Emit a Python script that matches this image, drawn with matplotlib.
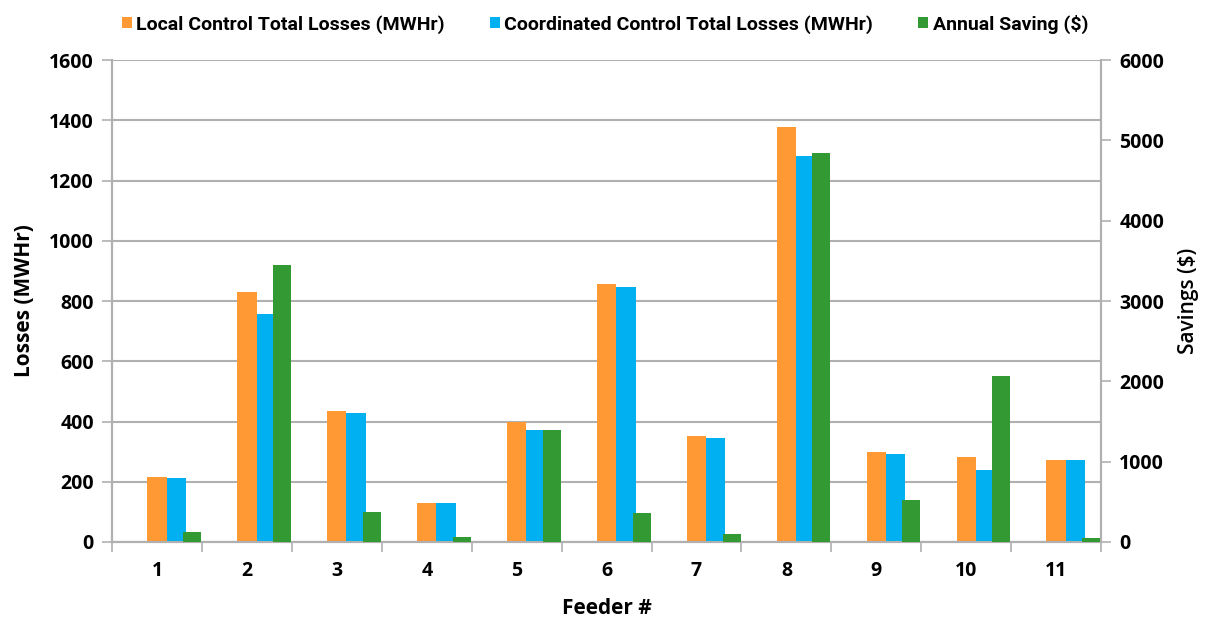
import matplotlib.pyplot as plt
import numpy as np

feeders = ['1', '2', '3', '4', '5', '6', '7', '8', '9', '10', '11']
local_losses = [216, 830, 435, 129, 400, 856, 351, 1379, 300, 281, 272]
coord_losses = [212, 757, 428, 129, 371, 846, 346, 1282, 291, 238, 272]
annual_saving = [120, 3450, 370, 60, 1390, 357, 100, 4846, 523, 2066, 54]

orange = '#FF9933'
blue = '#00B0F0'
green = '#339933'
grey = '#B0B0B0'

plt.rcParams['font.family'] = ['Open Sans', 'DejaVu Sans']

fig = plt.figure(figsize=(12.1, 6.19), dpi=100)
ax = fig.add_axes([0.0926, 0.1244, 0.8174, 0.7786])
ax2 = ax.twinx()

x = np.arange(len(feeders))
w = 0.215
b1 = ax.bar(x, local_losses, w, color=orange, label='Local Control Total Losses (MWHr)', zorder=3)
b2 = ax.bar(x + w, coord_losses, w, color=blue, label='Coordinated Control Total Losses (MWHr)', zorder=3)
b3 = ax2.bar(x + 0.39, annual_saving, 0.2, color=green, label='Annual Saving ($)', zorder=3)

ax.set_xlim(-0.5, len(feeders) - 0.5)
ax.set_ylim(0, 1600)
ax2.set_ylim(0, 6000)
ax.set_yticks(np.arange(0, 1601, 200))
ax2.set_yticks(np.arange(0, 6001, 1000))

ax.set_xticks(x)
ax.set_xticklabels(feeders)
ax.set_xticks(np.arange(-0.5, len(feeders)), minor=True)
ax.tick_params(axis='x', which='major', length=0, pad=14)
ax.tick_params(axis='x', which='minor', length=7, width=1.2, color=grey)

ax.grid(axis='y', color=grey, linewidth=1.5, zorder=0)
ax.set_axisbelow(True)
ax2.set_zorder(ax.get_zorder() + 1)
ax.patch.set_visible(False)

for a in (ax, ax2):
    for s in a.spines.values():
        s.set_color(grey)
        s.set_linewidth(1.5)
    a.spines['top'].set_visible(False)
    a.tick_params(axis='y', length=7, width=1.2, color=grey, pad=6)
    for lbl in a.get_yticklabels() + a.get_xticklabels():
        lbl.set_fontsize(14)
        lbl.set_fontweight('bold')

ax.set_ylabel('Losses (MWHr)', fontsize=15, fontweight='bold', labelpad=10)
ax2.set_ylabel('Savings ($)', fontsize=15, fontweight='semibold', labelpad=10)
ax.set_xlabel('Feeder #', fontsize=15, fontweight='bold', labelpad=12)

fig.legend(handles=[b1, b2, b3], loc='upper center', bbox_to_anchor=(0.5, 1.005), ncol=3,
           frameon=False, handlelength=0.5, handleheight=0.5, handletextpad=0.25,
           columnspacing=2.3, prop={'family': ['Roboto', 'DejaVu Sans'],
                                    'weight': 'bold', 'size': 14})

fig.savefig('out.png', dpi=100)
